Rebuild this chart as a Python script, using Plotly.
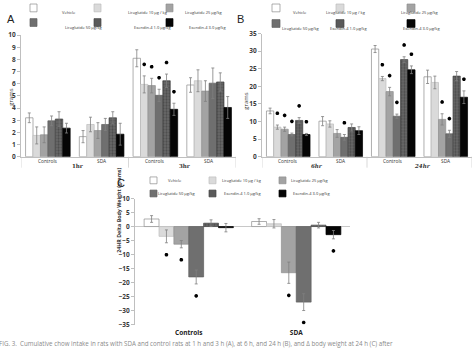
import plotly.graph_objects as go

W, H = 474, 348

# ---- treatment groups -------------------------------------------------------
treatments = ["Vehicle", "Liraglutide 10 µg / kg", "Liraglutide 25 µg/kg",
              "Liraglutide 50 µg/kg", "Exendin-4 1.0 µg/kg", "Exendin-4 3.0 µg/kg"]

# ---- panel A: cumulative chow intake, 1 h and 3 h ---------------------------
a_groups = ["Controls", "SDA", "Controls", "SDA"]
a_times = ["1hr", "3hr"]
a_vals = [  # rows = treatment, cols = group
    [3.2, 1.65, 8.1, 5.9],
    [1.75, 2.65, 5.95, 6.25],
    [1.8, 2.15, 5.85, 5.4],
    [2.95, 2.65, 5.05, 6.05],
    [3.1, 3.2, 6.25, 6.15],
    [2.35, 1.85, 3.9, 4.05],
]
a_err = [
    [0.4, 0.5, 0.7, 0.6],
    [0.7, 0.6, 0.7, 0.9],
    [0.65, 0.65, 0.6, 0.85],
    [0.4, 0.5, 0.5, 1.25],
    [0.6, 0.5, 0.55, 0.75],
    [0.4, 0.9, 0.5, 0.9],
]
a_star = [
    [0, 0, 0, 0],
    [0, 0, 1, 0],
    [0, 0, 1, 0],
    [0, 0, 1, 0],
    [0, 0, 1, 0],
    [0, 0, 1, 0],
]

# ---- panel B: cumulative chow intake, 6 h and 24 h --------------------------
b_groups = ["Controls", "SDA", "Controls", "SDA"]
b_times = ["6hr", "24hr"]
b_vals = [
    [13.0, 10.1, 30.6, 22.7],
    [8.4, 9.3, 22.2, 21.1],
    [7.8, 6.6, 18.5, 10.6],
    [6.3, 5.5, 11.5, 6.5],
    [10.3, 8.3, 27.6, 22.9],
    [6.3, 7.4, 24.7, 16.9],
]
b_err = [
    [0.8, 1.3, 1.0, 1.9],
    [0.6, 0.9, 0.6, 1.8],
    [0.6, 1.1, 1.2, 1.6],
    [0.4, 0.8, 0.6, 1.0],
    [0.8, 1.0, 0.8, 1.3],
    [0.3, 1.1, 1.1, 1.8],
]
b_star = [
    [0, 0, 0, 0],
    [1, 0, 1, 0],
    [1, 0, 1, 1],
    [1, 1, 1, 1],
    [1, 0, 1, 0],
    [1, 0, 1, 1],
]

# ---- panel C: 24 h delta body weight -----------------------------------------
c_groups = ["Controls", "SDA"]
c_vals = [
    [2.7, 1.8],
    [-3.5, 1.0],
    [-6.3, -16.5],
    [-18.0, -27.0],
    [1.2, 0.5],
    [-0.4, -2.9],
]
c_err = [
    [1.2, 1.0],
    [2.3, 1.5],
    [1.3, 3.8],
    [2.5, 3.0],
    [1.2, 1.0],
    [1.5, 1.5],
]
c_star = [
    [0, 0],
    [1, 0],
    [1, 1],
    [1, 1],
    [0, 0],
    [0, 1],
]

# ---- styling ------------------------------------------------------------------
FONT = "Open Sans"
fills = ["#ffffff", "#dadada", "#a3a3a3", "#6f6f6f", "#5a5a5a", "#050505"]
edges = ["#8c8c8c", "#bdbdbd", "#8f8f8f", "#5e5e5e", "#454545", "#000000"]
BARGAP = 0.17
N = len(treatments)


def xp(p):
    return p / W


def yp(p):
    return 1 - p / H


def bar_offset(i):
    w = (1 - BARGAP) / N
    return -(1 - BARGAP) / 2 + (i + 0.5) * w


fig = go.Figure()


def add_panel(xa, ya, vals, err, stars, span, below=False):
    ncat = len(vals[0])
    for i in range(N):
        marker = dict(color=fills[i], line=dict(color=edges[i], width=0.7))
        if i == 4:
            marker["pattern"] = dict(shape=".", fgcolor="#2e2e2e", bgcolor="#6a6a6a",
                                     size=3, solidity=0.45)
        fig.add_trace(go.Bar(
            x=list(range(ncat)), y=vals[i], name=treatments[i], marker=marker,
            error_y=dict(type="data", array=err[i], color="#808080",
                         thickness=0.8, width=1.5),
            xaxis=xa, yaxis=ya, showlegend=False))
    # significance asterisks
    sx, sy = [], []
    pad = 0.095 * span
    for i in range(N):
        for j in range(ncat):
            if stars[i][j]:
                sx.append(j + bar_offset(i))
                if below:
                    sy.append(vals[i][j] - err[i][j] - pad)
                else:
                    sy.append(vals[i][j] + err[i][j] + pad)
    fig.add_trace(go.Scatter(
        x=sx, y=sy, mode="markers", xaxis=xa, yaxis=ya, showlegend=False,
        marker=dict(symbol="asterisk", size=3, color="#000",
                    line=dict(color="#000", width=1.2)), hoverinfo="skip"))


add_panel("x", "y", a_vals, a_err, a_star, 10)
add_panel("x2", "y2", b_vals, b_err, b_star, 35)
add_panel("x3", "y3", c_vals, c_err, c_star, 45, below=True)

tickfont = dict(family=FONT, size=6.5, color="#3a3a3a", weight="bold")
yax_common = dict(showgrid=False, zeroline=False, showline=True, linecolor="#bfbfbf",
                  linewidth=0.8, ticks="outside", ticklen=3, tickcolor="#bfbfbf",
                  tickfont=tickfont)

fig.update_layout(
    width=W, height=H, margin=dict(l=0, r=0, t=0, b=0),
    paper_bgcolor="white", plot_bgcolor="white",
    barmode="group", bargap=BARGAP, bargroupgap=0,
    font=dict(family=FONT, color="#3a3a3a"),
    xaxis=dict(domain=[xp(21), xp(236)], range=[-0.5, 3.5], anchor="y",
               showticklabels=False, showgrid=False, zeroline=False,
               showline=True, linecolor="#bfbfbf", linewidth=0.8),
    yaxis=dict(domain=[yp(155.7), yp(31)], range=[0, 10], dtick=1, anchor="x",
               **yax_common),
    xaxis2=dict(domain=[xp(262), xp(472)], range=[-0.5, 3.5], anchor="y2",
                showticklabels=False, showgrid=False, zeroline=False,
                showline=True, linecolor="#bfbfbf", linewidth=0.8),
    yaxis2=dict(domain=[yp(155.7), yp(29.3)], range=[0, 35], dtick=5, anchor="x2",
                **yax_common),
    xaxis3=dict(domain=[xp(135), xp(350)], range=[-0.5, 1.5], anchor="y3",
                tickvals=list(range(len(c_groups))), ticktext=c_groups,
                tickfont=dict(family=FONT, size=6.5, color="#222", weight="bold"),
                showgrid=False, zeroline=False, showline=False, ticks="",
                ticklabelstandoff=3),
    yaxis3=dict(domain=[yp(328), yp(198.7)], range=[-35, 10], dtick=5, anchor="x3",
                **{**yax_common, "zeroline": True, "zerolinecolor": "#c8c8c8",
                   "zerolinewidth": 0.8}),
)

ann = []
shapes = []

# category labels under panels A and B
for xa, groups, times in (("x", a_groups, a_times), ("x2", b_groups, b_times)):
    for j, g in enumerate(groups):
        ann.append(dict(x=j, y=yp(160), xref=xa, yref="paper", text=g, showarrow=False,
                        font=dict(family=FONT, size=4.8, color="#333")))
    for k, t in enumerate(times):
        ann.append(dict(x=2 * k + 0.55, y=yp(165), xref=xa, yref="paper", text=t,
                        showarrow=False,
                        font=dict(family="DejaVu Serif", size=5.5, color="#333",
                                  weight="bold", style="italic" if xa == "x2" else "normal")))
    for b in (-0.5, 1.5, 3.5):
        shapes.append(dict(type="line", xref=xa, yref="paper", x0=b, x1=b,
                           y0=yp(155.7), y1=yp(167), line=dict(color="#c8c8c8", width=0.7)))

# axis titles
ann.append(dict(x=xp(5), y=yp(83), xref="paper", yref="paper", text="grams",
                textangle=-90, showarrow=False,
                font=dict(family=FONT, size=6, color="#333")))
ann.append(dict(x=xp(246), y=yp(87), xref="paper", yref="paper", text="grams",
                textangle=-90, showarrow=False,
                font=dict(family=FONT, size=6, color="#333")))
ann.append(dict(x=xp(113), y=yp(257), xref="paper", yref="paper",
                text="24HR Delta Body Weight (grams)", textangle=-90, showarrow=False,
                font=dict(family=FONT, size=5.3, color="#333", weight="bold")))

# panel letters
for letter, x, y in (("A", 5, 6), ("B", 240, 6), ("C", 115, 183)):
    ann.append(dict(x=xp(x), y=yp(y), xref="paper", yref="paper", text=letter,
                    showarrow=False, font=dict(family="Liberation Sans", size=11, color="#222")))

# per-panel legends: swatch columns, swatch row tops, label centres
legends = [
    dict(cols=[30, 94, 166], rows=[-1, 14], sw=7, sh=8,
         tx=[[60, 126, 204], [63, 132, 207]]),
    dict(cols=[272, 336, 407], rows=[-1, 15], sw=8, sh=8,
         tx=[[300, 368, 441], [301, 369, 442]]),
    dict(cols=[150, 209, 279], rows=[176.5, 190], sw=7, sh=7,
         tx=[[175, 242, 310], [177, 242, 311]]),
]
for lg in legends:
    for i, name in enumerate(treatments):
        r, c = divmod(i, 3)
        x0 = lg["cols"][c]
        y0 = lg["rows"][r]
        shapes.append(dict(type="rect", xref="paper", yref="paper",
                           x0=xp(x0), x1=xp(x0 + lg["sw"]),
                           y0=yp(y0 + lg["sh"]), y1=yp(y0),
                           fillcolor=fills[i], line=dict(color=edges[i], width=0.7)))
        ann.append(dict(x=xp(lg["tx"][r][c]), y=yp(y0 + lg["sh"] / 2), xref="paper",
                        yref="paper", text=name, showarrow=False,
                        font=dict(family=FONT, size=4, color="#333")))

# figure caption, running off the bottom edge
ann.append(dict(x=xp(-2), y=yp(341.5), xref="paper", yref="paper", xanchor="left",
                yanchor="top", borderpad=0,
                text="FIG. 3.  Cumulative chow intake in rats with SDA and control rats at 1 h "
                     "and 3 h (A), at 6 h, and 24 h (B), and Δ body weight at 24 h (C) after",
                showarrow=False, font=dict(family=FONT, size=6.2, color="#8a8a8a")))

fig.update_layout(annotations=ann, shapes=shapes)
fig.write_html("out.html")
